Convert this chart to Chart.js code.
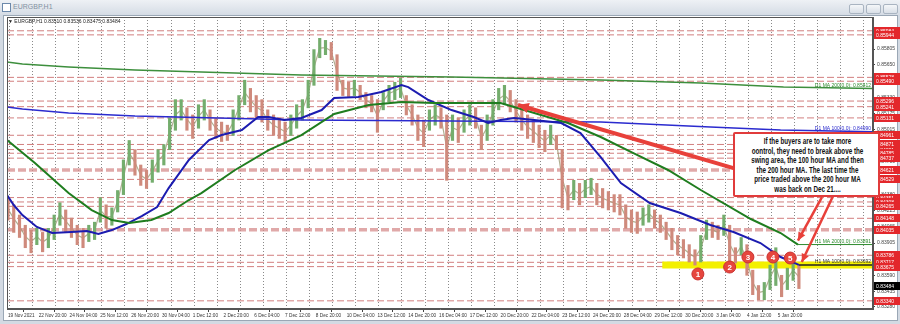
<!DOCTYPE html>
<html>
<head>
<meta charset="utf-8">
<script src="https://cdn.jsdelivr.net/npm/chart.js@4.4.1/dist/chart.umd.min.js"></script>
<style>
  body { margin: 0; width: 900px; height: 324px; overflow: hidden; position: relative;
         background: #d3dae3; font-family: "Liberation Sans", Arial, sans-serif; }
  #title { position: absolute; left: 0; top: 0; width: 900px; height: 15px;
           background: linear-gradient(#eef1f5, #d5dce5); }
  #title span { position: absolute; left: 13px; top: 3px; font-size: 7px; color: #8291a1; }
  #icon { position: absolute; left: 2px; top: 3px; width: 7px; height: 7px; border: 1px solid #6c89ab; background: #fff; }
  .btn { position: absolute; top: 4px; width: 13px; height: 8px; border: 1px solid #a9b4c1; border-radius: 2px;
         background: linear-gradient(#f5f7f9, #d9dfe7); }
  #win { position: absolute; left: 3px; top: 15px; width: 893px; height: 304px; background: #fff; border: 1px solid #9aa7b5; }
  #chart { position: absolute; left: 0; top: 0; }
  #info { position: absolute; left: 8px; top: 18px; font-size: 5px; color: #222; white-space: nowrap; }
  #note { position: absolute; left: 733px; top: 132px; width: 147px; height: 65px; box-sizing: border-box;
          border: 2px solid #e13b3b; border-radius: 2px; background: #fff; overflow: hidden; }
  #note div { width: 196px; transform: scaleX(0.75); transform-origin: 0 0; margin-left: -1px;
              font-weight: bold; font-size: 8.4px; line-height: 9.6px; text-align: center; color: #111; padding-top: 3px; }
</style>
</head>
<body>
<div id="title"><div id="icon"></div><span>EURGBP,H1</span>
  <div class="btn" style="left:849px"></div><div class="btn" style="left:866px"></div><div class="btn" style="left:883px"></div>
</div>
<div id="win"></div>
<canvas id="chart" width="900" height="324"></canvas>
<div id="info">▼ EURGBP,H1 0.83510 0.83536 0.83475 0.83484</div>
<div id="note"><div>If the buyers are to take more<br>oontrol, they need to break above the<br>swing area, the 100 hour MA and then<br>the 200 hour MA. The last time the<br>price traded above the 200 hour MA<br>was back on Dec 21....</div></div>

<script>
// ---- axis labels ----
const timeLabels = ['19 Nov 2021', '22 Nov 20:00', '24 Nov 04:00', '25 Nov 12:00', '26 Nov 20:00', '30 Nov 04:00',
  '1 Dec 12:00', '2 Dec 20:00', '6 Dec 04:00', '7 Dec 12:00', '8 Dec 20:00', '10 Dec 04:00', '13 Dec 12:00',
  '14 Dec 20:00', '16 Dec 04:00', '17 Dec 12:00', '20 Dec 20:00', '22 Dec 04:00', '23 Dec 12:00', '24 Dec 20:00',
  '28 Dec 04:00', '29 Dec 12:00', '30 Dec 20:00', '3 Jan 04:00', '4 Jan 12:00', '5 Jan 20:00'];
const barsPerLabel = 32;   // H1 bars between time labels
const barsPerGrid = 24;    // H1 bars between dotted grid lines
const gridStart = 13.5;
const sampleBars = 6;      // each drawn candle covers 6 H1 bars
const lastBar = 899;

const priceTicks = ['0.83280', '0.83435', '0.83590', '0.83750', '0.83905', '0.84065', '0.84225', '0.84380',
  '0.84540', '0.84700', '0.84855', '0.85015', '0.85175', '0.85330', '0.85490', '0.85650', '0.85805', '0.85960'];

// ---- price (high / low per 6 hours) ----
const highs = [
  0.8435, 0.8428, 0.8418, 0.8408, 0.8403, 0.8405, 0.8401, 0.8405, 0.8418, 0.8430,
  0.8423, 0.8415, 0.8408, 0.8405, 0.8408, 0.8411, 0.8435, 0.8428, 0.8425, 0.8442,
  0.8472, 0.8491, 0.8482, 0.8467, 0.8462, 0.8472, 0.8482, 0.8487, 0.8513, 0.8531,
  0.8531, 0.8523, 0.8516, 0.8526, 0.8531, 0.8521, 0.8513, 0.8509, 0.8506, 0.8521,
  0.8535, 0.8550, 0.8542, 0.8535, 0.8531, 0.8521, 0.8516, 0.8513, 0.8509, 0.8516,
  0.8526, 0.8531, 0.8550, 0.8580, 0.8591, 0.8589, 0.8587, 0.8575, 0.8550, 0.8548,
  0.8550, 0.8545, 0.8538, 0.8535, 0.8531, 0.8538, 0.8545, 0.8548, 0.8552, 0.8535,
  0.8526, 0.8516, 0.8511, 0.8521, 0.8526, 0.8523, 0.8516, 0.8516, 0.8513, 0.8521,
  0.8526, 0.8523, 0.8506, 0.8516, 0.8531, 0.8542, 0.8545, 0.8540, 0.8531, 0.8521,
  0.8516, 0.8511, 0.8506, 0.8501, 0.8506, 0.8496, 0.8482, 0.8447, 0.8452, 0.8449,
  0.8452, 0.8454, 0.8449, 0.8444, 0.8441, 0.8438, 0.8438, 0.8428, 0.8423, 0.8421,
  0.8425, 0.8428, 0.8423, 0.8418, 0.8411, 0.8405, 0.8398, 0.8394, 0.8389, 0.8384,
  0.8398, 0.8413, 0.8411, 0.8408, 0.8418, 0.8408, 0.8386, 0.8396, 0.8389, 0.8364,
  0.8349, 0.8352, 0.8369, 0.8386, 0.8359, 0.8366, 0.8374, 0.8369];
const lows = [
  0.8413, 0.8401, 0.8396, 0.8386, 0.8381, 0.8389, 0.8382, 0.8386, 0.8394, 0.8408,
  0.8401, 0.8396, 0.8389, 0.8386, 0.8392, 0.8394, 0.8411, 0.8405, 0.8408, 0.8421,
  0.8438, 0.8467, 0.8457, 0.8447, 0.8444, 0.8450, 0.8460, 0.8467, 0.8482, 0.8501,
  0.8511, 0.8501, 0.8493, 0.8503, 0.8511, 0.8501, 0.8493, 0.8490, 0.8491, 0.8496,
  0.8511, 0.8526, 0.8519, 0.8513, 0.8509, 0.8501, 0.8496, 0.8493, 0.8490, 0.8496,
  0.8503, 0.8511, 0.8523, 0.8545, 0.8572, 0.8575, 0.8570, 0.8540, 0.8535, 0.8534,
  0.8535, 0.8531, 0.8523, 0.8519, 0.8499, 0.8521, 0.8529, 0.8531, 0.8533, 0.8516,
  0.8506, 0.8491, 0.8485, 0.8501, 0.8506, 0.8503, 0.8452, 0.8491, 0.8489, 0.8499,
  0.8506, 0.8503, 0.8482, 0.8491, 0.8506, 0.8521, 0.8526, 0.8519, 0.8509, 0.8501,
  0.8493, 0.8489, 0.8484, 0.8480, 0.8487, 0.8482, 0.8425, 0.8423, 0.8433, 0.8428,
  0.8435, 0.8438, 0.8428, 0.8425, 0.8423, 0.8421, 0.8418, 0.8405, 0.8401, 0.8400,
  0.8408, 0.8411, 0.8405, 0.8401, 0.8394, 0.8384, 0.8379, 0.8376, 0.8372, 0.8369,
  0.8372, 0.8394, 0.8396, 0.8394, 0.8398, 0.8371, 0.8371, 0.8379, 0.8359, 0.8340,
  0.8335, 0.8335, 0.8345, 0.8349, 0.8338, 0.8345, 0.8354, 0.8346];
const lastPrice = 0.83484;

// ---- moving averages (bar index, price) ----
const maH1_100Bars = [-1, 6, 15, 30, 46, 66, 82, 94, 108, 123, 139, 155, 167, 188, 209, 222, 243, 260, 271, 287,
  305, 326, 339, 364, 388, 409, 416, 437, 461, 484, 499, 512, 526, 547, 575, 595, 616, 637, 667, 699, 730, 754, 782, 803, 822];
const maH1_100 = [0.84376, 0.84278, 0.84180, 0.84063, 0.84004, 0.84014, 0.84023, 0.83994, 0.84033, 0.84092,
  0.84170, 0.84258, 0.84444, 0.84719, 0.84914, 0.84963, 0.85012, 0.85140, 0.85140, 0.85110,
  0.85130, 0.85208, 0.85326, 0.85335, 0.85384, 0.85453, 0.85433, 0.85306, 0.85208, 0.85140,
  0.85081, 0.85110, 0.85130, 0.85110, 0.85081, 0.84983, 0.84748, 0.84493, 0.84298, 0.84200,
  0.84082, 0.84014, 0.83906, 0.83769, 0.83692];
const maH1_200Bars = [-1, 28, 63, 87, 108, 126, 149, 167, 188, 201, 236, 271, 305, 339, 375, 409, 443, 478,
  512, 526, 547, 582, 616, 650, 686, 720, 772, 803, 821];
const maH1_200 = [0.84914, 0.84689, 0.84395, 0.84229, 0.84131, 0.84102, 0.84131, 0.84200, 0.84327, 0.84395,
  0.84621, 0.84816, 0.84963, 0.85169, 0.85257, 0.85286, 0.85277, 0.85277, 0.85277, 0.85237,
  0.85179, 0.85081, 0.84944, 0.84787, 0.84621, 0.84425, 0.84141, 0.84004, 0.83891];
const maD1_100Bars = [-1, 15, 63, 132, 305, 616, 730, 803, 899];
const maD1_100 = [0.85237, 0.85218, 0.85179, 0.85149, 0.85110, 0.85091, 0.85042, 0.85012, 0.84995];
const maD1_200Bars = [-1, 15, 63, 132, 201, 305, 461, 616, 720, 806, 899];
const maD1_200 = [0.85678, 0.85658, 0.85629, 0.85600, 0.85580, 0.85551, 0.85531, 0.85502, 0.85472, 0.85433, 0.85420];
const maNames = ['D1 MA 200(0,0): 0.85412', 'D1 MA 100(0,0): 0.84990', 'H1 MA 200(0,0): 0.83891', 'H1 MA 100(0,0): 0.83692'];
const maLast = [0.85420, 0.84995, 0.83891, 0.83692];

// ---- horizontal levels ----
const levels = [0.85984, 0.85944, 0.85528, 0.85490, 0.85296, 0.85241, 0.85131, 0.84961, 0.84871, 0.84821,
  0.84785, 0.84737, 0.84529, 0.84351, 0.84308, 0.84265, 0.84148, 0.83786, 0.83717, 0.83675, 0.83340];
const zoneLevels = [0.84621, 0.84035];
const swingLevel = 0.83690;
const swingFromBar = 680;

// ---- annotations ----
const markerBars = [717, 750, 769, 795, 813];
const markerPrices = [0.83603, 0.83671, 0.83769, 0.83769, 0.83759];
const arrows = [
  { from: [754, 0.84640], to: [530, 0.85257], w: 4, head: 12 },
  { from: [846, 0.84356], to: [821, 0.83930], w: 2.5, head: 9 },
  { from: [857, 0.84356], to: [825, 0.83720], w: 2.5, head: 9 }
];

const font = "'Liberation Sans',Arial,sans-serif";
Chart.defaults.font.family = font;

const upColor = '#74ad6d', downColor = '#cf8a7c';
const candleColors = highs.map((h, i) => {
  if (i === 0) return downColor;
  return (h + lows[i]) >= (highs[i - 1] + lows[i - 1]) ? upColor : downColor;
});

function series(bars, vals) { return bars.map((b, i) => ({ x: b, y: vals[i] })); }
function flat(from, to, v) { return [{ x: from, y: v }, { x: to, y: v }]; }
const lineBase = { type: 'line', pointRadius: 0, fill: false, tension: 0 };

const datasets = [];
levels.forEach(v => datasets.push({ ...lineBase, data: flat(-1, lastBar, v), borderColor: '#d27f7f',
  borderWidth: 1, borderDash: [7, 3], order: 20 }));
zoneLevels.forEach(v => datasets.push({ ...lineBase, data: flat(-1, lastBar, v), borderColor: 'rgba(214,140,140,0.75)',
  borderWidth: 3.5, borderDash: [8, 3], order: 20 }));
datasets.push({ ...lineBase, data: flat(swingFromBar, lastBar, swingLevel), borderColor: '#f3f000', borderWidth: 7, order: 19 });
// thin trace through the middle of each candle so the price reads as one continuous path
datasets.push({ ...lineBase, data: highs.map((h, i) => ({ x: i * sampleBars, y: (h + lows[i]) / 2 })),
  borderColor: 'rgba(150,150,110,0.75)', borderWidth: 1.2, order: 16 });
datasets.push({ type: 'bar', data: highs.map((h, i) => ({ x: i * sampleBars, y: [lows[i], h] })),
  backgroundColor: candleColors, barThickness: 2.5, order: 15 });
datasets.push({ ...lineBase, data: series(maD1_200Bars, maD1_200), borderColor: '#3d8f3d', borderWidth: 1.5, order: 10 });
datasets.push({ ...lineBase, data: series(maD1_100Bars, maD1_100), borderColor: '#2b2bcf', borderWidth: 1.5, order: 10 });
datasets.push({ ...lineBase, data: series(maH1_200Bars, maH1_200), borderColor: '#1f7d1f', borderWidth: 2, order: 9 });
datasets.push({ ...lineBase, data: series(maH1_100Bars, maH1_100), borderColor: '#1c1cb0', borderWidth: 2, order: 9 });
datasets.push({ ...lineBase, data: flat(maH1_200Bars[maH1_200Bars.length - 1], lastBar, maLast[2]), borderColor: '#2e8b2e', borderWidth: 1, order: 9 });
datasets.push({ ...lineBase, data: flat(maH1_100Bars[maH1_100Bars.length - 1], lastBar, maLast[3]), borderColor: '#222', borderWidth: 1.5, order: 9 });
arrows.forEach(a => datasets.push({ ...lineBase, data: [{ x: a.from[0], y: a.from[1] }, { x: a.to[0], y: a.to[1] }],
  borderColor: '#e8403a', borderWidth: a.w, order: 5 }));
datasets.push({ type: 'scatter', data: series(markerBars, markerPrices), pointRadius: 6,
  pointBackgroundColor: '#e6463e', pointBorderColor: '#c93232', pointBorderWidth: 1, order: 4 });
const markerIndex = datasets.length - 1;

const overlay = {
  id: 'overlay',
  afterDatasetsDraw(chart) {
    const { ctx, chartArea: a } = chart;
    const x = chart.scales.x, y = chart.scales.y;
    ctx.save();
    // arrow heads
    ctx.fillStyle = '#e8403a';
    arrows.forEach(ar => {
      const x0 = x.getPixelForValue(ar.from[0]), y0 = y.getPixelForValue(ar.from[1]);
      const x1 = x.getPixelForValue(ar.to[0]), y1 = y.getPixelForValue(ar.to[1]);
      const ang = Math.atan2(y1 - y0, x1 - x0);
      ctx.beginPath();
      ctx.moveTo(x1, y1);
      ctx.lineTo(x1 - ar.head * Math.cos(ang - 0.45), y1 - ar.head * Math.sin(ang - 0.45));
      ctx.lineTo(x1 - ar.head * Math.cos(ang + 0.45), y1 - ar.head * Math.sin(ang + 0.45));
      ctx.closePath();
      ctx.fill();
    });
    // marker numbers
    ctx.fillStyle = '#fff';
    ctx.font = 'bold 8px ' + font;
    ctx.textAlign = 'center';
    ctx.textBaseline = 'middle';
    chart.getDatasetMeta(markerIndex).data.forEach((pt, i) => ctx.fillText(String(i + 1), pt.x, pt.y + 0.5));
    // MA value texts
    const maColors = ['#2e8b2e', '#2b2bcf', '#2e8b2e', '#333'];
    ctx.font = '5px ' + font;
    ctx.textAlign = 'right';
    ctx.textBaseline = 'bottom';
    maNames.forEach((t, i) => { ctx.fillStyle = maColors[i]; ctx.fillText(t, a.right - 2, y.getPixelForValue(maLast[i]) - 0.5); });
    // plot frame
    ctx.strokeStyle = '#555';
    ctx.lineWidth = 1;
    ctx.strokeRect(a.left + 0.5, a.top + 0.5, a.width - 1, a.height - 1);
    ctx.restore();
  },
  afterDraw(chart) {
    const { ctx, chartArea: a } = chart;
    const y = chart.scales.y;
    ctx.save();
    ctx.font = '5px ' + font;
    ctx.textAlign = 'left';
    ctx.textBaseline = 'middle';
    const tag = (v, bg) => {
      const py = Math.round(y.getPixelForValue(v));
      ctx.fillStyle = bg;
      ctx.fillRect(a.right + 1, py - 4, 26, 8);
      ctx.fillStyle = '#fff';
      ctx.fillText(v.toFixed(5), a.right + 3, py + 0.5);
    };
    levels.concat(zoneLevels).forEach(v => tag(v, '#e3272b'));
    tag(lastPrice, '#000');
    ctx.restore();
  }
};

new Chart(document.getElementById('chart'), {
  type: 'bar',
  data: { datasets },
  options: {
    responsive: false,
    animation: false,
    layout: { padding: { left: 5, top: 17, right: 0, bottom: 5 } },
    plugins: { legend: { display: false }, tooltip: { enabled: false } },
    scales: {
      x: {
        type: 'linear', position: 'bottom', min: -1, max: lastBar, offset: false,
        afterBuildTicks: s => { s.ticks = timeLabels.map((t, k) => ({ value: k * barsPerLabel })); },
        afterFit: s => { s.height = 10; },
        ticks: { autoSkip: false, maxRotation: 0, minRotation: 0, align: 'start', padding: 1,
          font: { size: 4.7 }, color: '#333', callback: (v, i) => timeLabels[i] },
        grid: { drawOnChartArea: false, tickLength: 3, color: '#444' },
        border: { color: '#555' }
      },
      xg: {
        type: 'linear', position: 'bottom', min: -1, max: lastBar, offset: false,
        afterBuildTicks: s => {
          const t = [];
          for (let b = gridStart; b < lastBar; b += barsPerGrid) t.push({ value: b });
          s.ticks = t;
        },
        afterFit: s => { s.height = 0; },
        ticks: { display: false },
        grid: { color: '#8a8a8a', drawTicks: false },
        border: { display: false, dash: [1, 2] }
      },
      y: {
        type: 'linear', position: 'right', min: 0.83260, max: 0.86119,
        afterBuildTicks: s => { s.ticks = priceTicks.map(t => ({ value: +t })); },
        afterFit: s => { s.width = 27; },
        ticks: { padding: 2, font: { size: 5 }, color: '#444', callback: (v, i) => priceTicks[i] },
        grid: { drawOnChartArea: false, tickLength: 2, color: '#444' },
        border: { color: '#555' }
      }
    }
  },
  plugins: [overlay]
});
</script>
</body>
</html>
